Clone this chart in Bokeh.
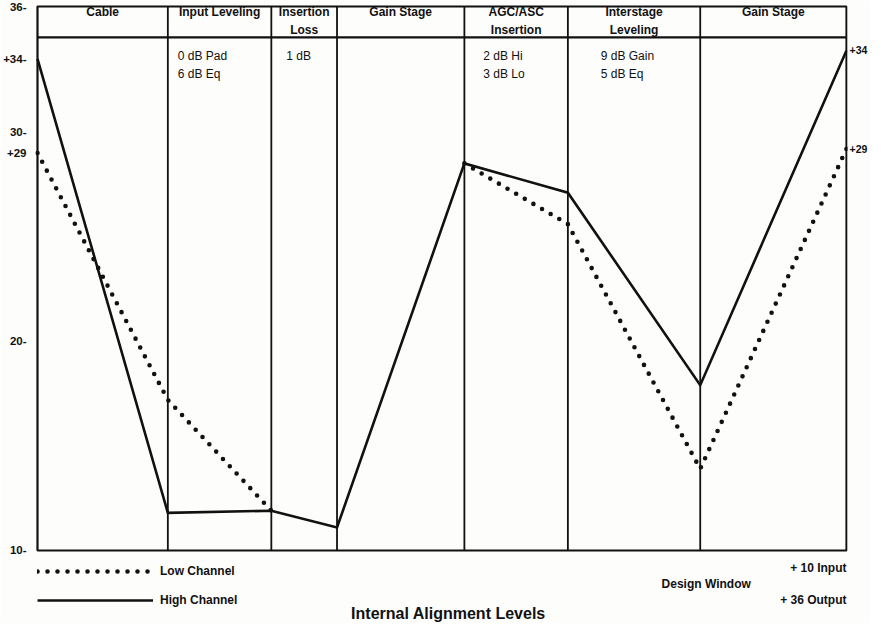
from bokeh.plotting import figure
from bokeh.models import Range1d, FixedTicker, LinearAxis, Legend, LegendItem
from bokeh.core.properties import value
from bokeh.embed import file_html
from bokeh.resources import INLINE

# ---------------- data ----------------
# stage boundary positions along the signal path (arbitrary length units)
stage_boundaries = [0, 131, 235, 301, 429, 533, 666, 813]
# levels (dB) at each boundary
high_channel = [33.5, 11.8, 11.9, 11.1, 28.5, 27.1, 17.9, 33.9]
low_channel = [29.0, 17.2, 11.9, 11.1, 28.5, 25.6, 13.9, 29.2]

stage_names = ["Cable", "Input Leveling", "Insertion\nLoss", "Gain Stage",
               "AGC/ASC\nInsertion", "Interstage\nLeveling", "Gain Stage"]
stage_notes = ["", "0 dB Pad\n6 dB Eq", "1 dB", "", "2 dB Hi\n3 dB Lo",
               "9 dB Gain\n5 dB Eq", ""]

axis_ticks = [10, 20, 30, 36]
axis_tick_labels = ["10-", "20-", "30-", "36-"]
start_level_labels = ["+34-", "+29"]   # high, low at input
end_level_labels = ["+34", "+29"]      # high, low at output

legend_labels = ["Low Channel", "High Channel"]
design_window = ["+ 10 Input", "Design Window", "+ 36 Output"]
chart_title = "Internal Alignment Levels"

# ---------------- layout constants ----------------
Y_MIN, Y_MAX = 10, 36
HEADER_Y = 34.52
HEADER_TEXT_Y = 36.06
NOTE_TEXT_Y = 33.99
note_offsets = [0, 10, 15, 0, 19, 33, 0]
FONT = value("Liberation Sans")
INK = "#111111"
BG = "#fdfdfc"

p = figure(width=870, height=623, output_backend="svg", toolbar_location=None,
           x_axis_location=None, y_axis_location=None,
           x_range=Range1d(-2, 814), y_range=Range1d(6.511, 36.239),
           min_border_left=34, min_border_right=20, min_border_top=1,
           min_border_bottom=0, tools="")
p.xgrid.visible = False
p.ygrid.visible = False
p.outline_line_color = None
p.background_fill_color = BG
p.border_fill_color = BG


def style_axis(ax, standoff, size):
    ax.axis_line_color = None
    ax.major_tick_line_color = None
    ax.minor_tick_line_color = None
    ax.major_tick_out = 0
    ax.major_tick_in = 0
    ax.major_label_standoff = standoff
    ax.major_label_text_font = "Liberation Sans"
    ax.major_label_text_font_style = "bold"
    ax.major_label_text_font_size = size
    ax.major_label_text_color = INK


left_ticks = axis_ticks + [high_channel[0], low_channel[0]]
left_labels = axis_tick_labels + start_level_labels
left_axis = LinearAxis(ticker=FixedTicker(ticks=left_ticks),
                       major_label_overrides={t: l for t, l in zip(left_ticks, left_labels)})
style_axis(left_axis, 9, "11.5px")
p.add_layout(left_axis, "left")

right_ticks = [high_channel[-1], low_channel[-1]]
right_axis = LinearAxis(ticker=FixedTicker(ticks=right_ticks),
                        major_label_overrides={t: l for t, l in zip(right_ticks, end_level_labels)})
style_axis(right_axis, 2, "10.5px")
p.add_layout(right_axis, "right")

# table frame
x0, x1 = stage_boundaries[0], stage_boundaries[-1]
p.quad(left=[x0], right=[x1], bottom=[Y_MIN], top=[Y_MAX], fill_alpha=0,
       line_color=INK, line_width=2.2)
inner = stage_boundaries[1:-1]
p.segment(x0=inner, y0=[Y_MIN] * len(inner), x1=inner, y1=[Y_MAX] * len(inner),
          line_color=INK, line_width=1.8)
p.segment(x0=[x0], y0=[HEADER_Y], x1=[x1], y1=[HEADER_Y], line_color=INK, line_width=2.2)

# headers and notes
mids = [(a + b) / 2 for a, b in zip(stage_boundaries[:-1], stage_boundaries[1:])]
p.text(x=mids, y=[HEADER_TEXT_Y] * len(mids), text=stage_names, text_align="center",
       text_baseline="top", text_font=FONT, text_font_style="bold",
       text_font_size="12px", text_line_height=1.3, text_color=INK)
note_x = [b + o for b, o in zip(stage_boundaries[:-1], note_offsets)]
p.text(x=note_x, y=[NOTE_TEXT_Y] * len(note_x), text=stage_notes, text_align="left",
       text_baseline="top", text_font=FONT, text_font_size="12px",
       text_line_height=1.33, text_color=INK)


# low channel: draw only where it departs from the high channel
def distinct_runs(xs, ys, ref):
    rx, ry, cx, cy = [], [], [], []
    for i in range(len(xs) - 1):
        same = ys[i] == ref[i] and ys[i + 1] == ref[i + 1]
        if same:
            if cx:
                rx.append(cx); ry.append(cy); cx, cy = [], []
        else:
            if not cx:
                cx, cy = [xs[i]], [ys[i]]
            cx.append(xs[i + 1]); cy.append(ys[i + 1])
    if cx:
        rx.append(cx); ry.append(cy)
    return rx, ry


lx, ly = distinct_runs(stage_boundaries, low_channel, high_channel)
low_r = p.multi_line(xs=lx, ys=ly, line_color=INK, line_width=4.6,
                     line_dash="0 10", line_cap="round")
high_r = p.line(stage_boundaries, high_channel, line_color=INK, line_width=2.6,
                line_join="miter")

legend = Legend(items=[LegendItem(label=legend_labels[0], renderers=[low_r]),
                       LegendItem(label=legend_labels[1], renderers=[high_r])],
                location=(2, 13), orientation="vertical", glyph_width=116,
                glyph_height=20, label_height=20, label_standoff=7, spacing=9,
                padding=0, margin=0, border_line_color=None,
                background_fill_alpha=0, label_text_font="Liberation Sans",
                label_text_font_style="bold", label_text_font_size="12px",
                label_text_color=INK)
p.add_layout(legend)

# design window notes
p.text(x=[x1, 672, x1], y=[9.14, 8.375, 7.658], text=design_window,
       text_align=["right", "center", "right"], text_baseline="middle",
       text_font=FONT, text_font_style="bold", text_font_size="12px",
       text_color=INK)

# bottom title
p.text(x=[413], y=[7.0], text=[chart_title], text_align="center",
       text_baseline="middle", text_font=FONT, text_font_style="bold",
       text_font_size="16px", text_color=INK)

open("out.html", "w").write(file_html(p, INLINE))
